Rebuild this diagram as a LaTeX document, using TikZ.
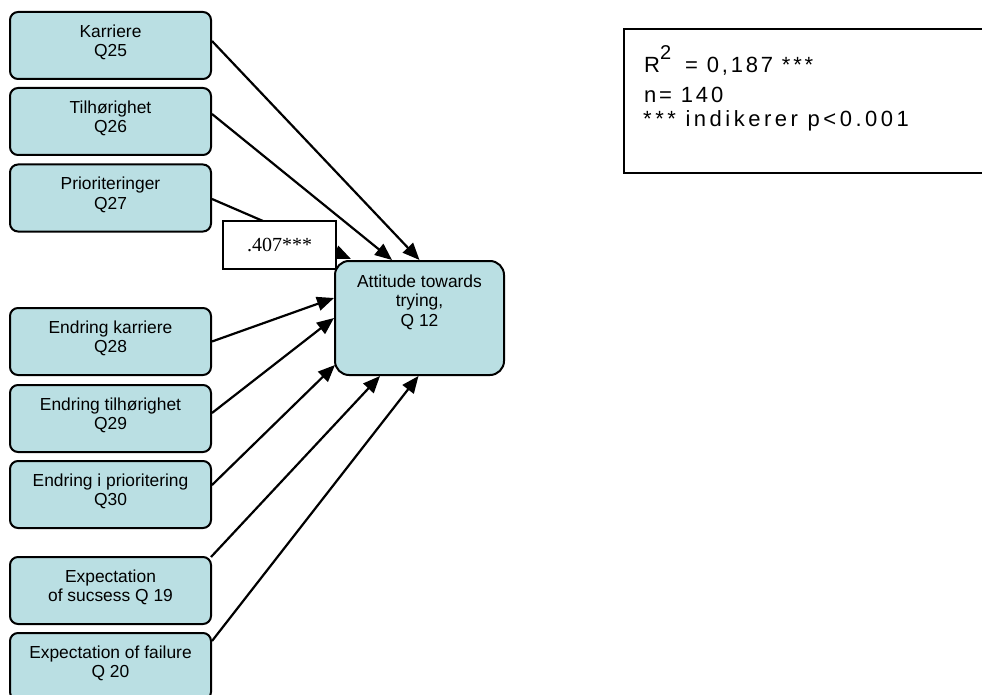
\documentclass[tikz,border=0pt]{standalone}
\usepackage{fontspec}
\setmainfont{Liberation Sans}
\newfontfamily\serifnum{Liberation Serif}
\newfontfamily\statfont[LetterSpace=12.7]{Liberation Sans}
\newfontfamily\statfontw[LetterSpace=16]{Liberation Sans}
\usetikzlibrary{arrows.meta}
\definecolor{boxfill}{RGB}{186,223,227}
\begin{document}
\begin{tikzpicture}[x=1pt,y=-1pt,
  qbox/.style={draw=black, line width=2pt, fill=boxfill, rounded corners=8pt,
    minimum width=201pt, minimum height=67pt, inner sep=0pt, align=center,
    font=\fontsize{17.4pt}{19.4pt}\selectfont},
  cbox/.style={draw=black, line width=2pt, fill=boxfill, rounded corners=14pt,
    minimum width=169pt, minimum height=114pt, inner sep=0pt, align=center,
    font=\fontsize{17.4pt}{19.8pt}\selectfont},
  conn/.style={line width=2.2pt, -{Triangle[length=17pt,width=14pt]}},
  coefbox/.style={draw=black, line width=1.5pt, fill=white, minimum width=113pt,
    minimum height=48pt, inner sep=0pt, font=\serifnum\fontsize{20pt}{24pt}\selectfont},
  statbox/.style={draw=black, line width=2pt, minimum width=386pt, minimum height=144pt, inner sep=0pt},
  stattext/.style={anchor=base west, inner sep=0pt, font=\statfont\fontsize{22pt}{26pt}\selectfont}
]
\useasboundingbox (0,0) rectangle (982,695);

% predictor boxes
\node[qbox] (b1) at (110.5,45.5) {Karriere\\Q25\rule[-10pt]{0pt}{10pt}};
\node[qbox] (b2) at (110.5,121.5) {Tilhørighet\\Q26\rule[-10pt]{0pt}{10pt}};
\node[qbox] (b3) at (110.5,198) {Prioriteringer\\Q27\rule[-10pt]{0pt}{10pt}};
\node[qbox] (b4) at (110.5,341.5) {Endring karriere\\Q28\rule[-10pt]{0pt}{10pt}};
\node[qbox] (b5) at (110.5,418.5) {Endring tilhørighet\\Q29\rule[-10pt]{0pt}{10pt}};
\node[qbox] (b6) at (110.5,494.5) {Endring i prioritering\\Q30\rule[-10pt]{0pt}{10pt}};
\node[qbox] (b7) at (110.5,590.5) {Expectation\\of sucsess Q 19\rule[-10pt]{0pt}{10pt}};
\node[qbox] (b8) at (110.5,666.5) {Expectation of failure\\Q 20\rule[-10pt]{0pt}{10pt}};

% outcome box
\node[cbox] (c) at (419.5,318) {Attitude towards\\trying,\\Q 12\rule[-35pt]{0pt}{35pt}};

% arrow end points on the outcome box
\coordinate (t1) at (c.north);
\coordinate (t2) at ([xshift=-27.5pt]c.north);
\coordinate (t3) at ([xshift=17pt,yshift=1pt]c.north west);
\coordinate (t4) at ([yshift=20pt]c.west);
\coordinate (t5) at (c.west);
\coordinate (t6) at ([xshift=1pt,yshift=-47pt]c.west);
\coordinate (t7) at ([xshift=-39.5pt]c.south);
\coordinate (t8) at ([xshift=-1pt]c.south);

\draw[conn] ([yshift=4.5pt]b1.east) -- (t1);
\draw[conn] ([yshift=7.5pt]b2.east) -- (t2);
\draw[conn] ([yshift=-1pt]b3.east) -- (t3);
\draw[conn] (b4.east) -- (t4);
\draw[conn] ([yshift=5.5pt]b5.east) -- (t5);
\draw[conn] ([yshift=9.5pt]b6.east) -- (t6);
\draw[conn] ([shift={(-1pt,-1pt)}]b7.north east) -- (t7);
\draw[conn] ([yshift=-9pt]b8.north east) -- (t8);

% coefficient label
\node[coefbox] (coef) at (279.5,245) {.407***};

% statistics box
\node[statbox] (stats) at (817,101) {};
\node[stattext] (r2) at (644,73) {R\raisebox{13pt}{\fontsize{20pt}{22pt}\selectfont 2}\hspace{5pt} = 0,187 ***};
\node[stattext] (nn) at (644,103) {n= 140};
\node[stattext, font=\statfontw\fontsize{22pt}{26pt}\selectfont] (pv) at (643,127) {*** indikerer p<0.001};
\end{tikzpicture}
\end{document}
